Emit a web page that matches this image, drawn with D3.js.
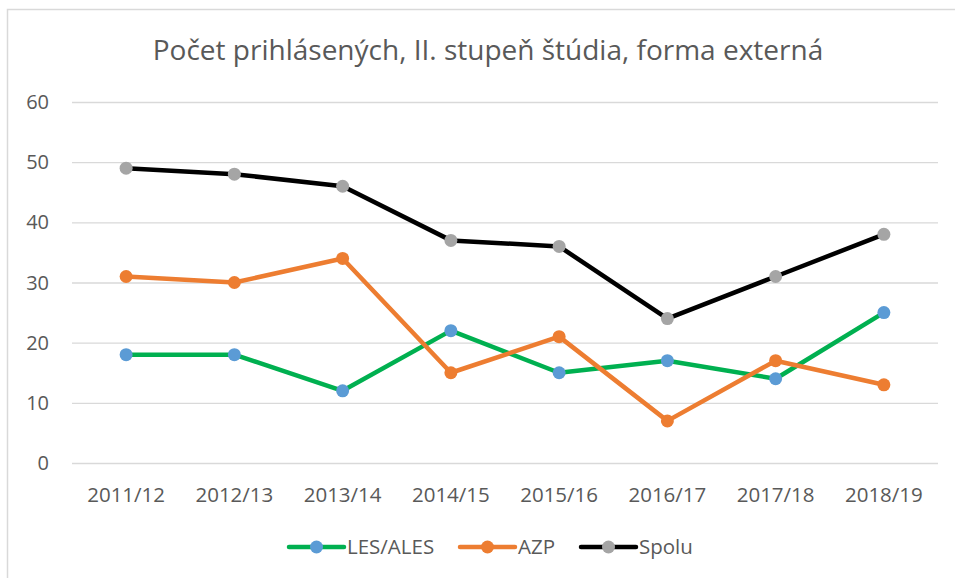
<!DOCTYPE html>
<html>
<head>
<meta charset="utf-8">
<script src="https://cdn.jsdelivr.net/npm/d3@7"></script>
<style>
  body { margin: 0; background: #fff; }
  text { font-family: "Open Sans", sans-serif; fill: #595959; }
</style>
</head>
<body>
<svg id="chart" width="955" height="578"></svg>
<script>
const title = 'Počet prihlásených, II. stupeň štúdia, forma externá';
const years = ['2011/12', '2012/13', '2013/14', '2014/15', '2015/16', '2016/17', '2017/18', '2018/19'];
const yTicks = [0, 10, 20, 30, 40, 50, 60];
const seriesNames = ['LES/ALES', 'AZP', 'Spolu'];
const lesAles = [18, 18, 12, 22, 15, 17, 14, 25];
const azp = [31, 30, 34, 15, 21, 7, 17, 13];
const spolu = [49, 48, 46, 37, 36, 24, 31, 38];

const series = [
  { name: seriesNames[0], values: lesAles, line: '#00B050', dot: '#5B9BD5' },
  { name: seriesNames[1], values: azp, line: '#ED7D31', dot: '#ED7D31' },
  { name: seriesNames[2], values: spolu, line: '#000000', dot: '#A5A5A5' }
];

const margin = { top: 102, right: 17, bottom: 115, left: 72 };
const width = 955, height = 578;

const svg = d3.select('#chart');

// outer chart border
svg.append('rect')
  .attr('x', 7.5).attr('y', 9.5)
  .attr('width', 960).attr('height', 600)
  .attr('fill', 'none').attr('stroke', '#D9D9D9').attr('stroke-width', 1.5);

const x = d3.scaleBand()
  .domain(years)
  .range([margin.left, width - margin.right]);

const y = d3.scaleLinear()
  .domain([0, 60])
  .range([height - margin.bottom, margin.top]);

// gridlines
svg.append('g')
  .selectAll('line')
  .data(yTicks)
  .join('line')
  .attr('x1', margin.left).attr('x2', width - margin.right)
  .attr('y1', d => y(d) + 0.5).attr('y2', d => y(d) + 0.5)
  .attr('stroke', '#D9D9D9').attr('stroke-width', 1.3);

// y labels
svg.append('g')
  .selectAll('text')
  .data(yTicks)
  .join('text')
  .attr('x', 49).attr('y', d => y(d))
  .attr('dy', '0.35em')
  .attr('text-anchor', 'end')
  .style('font-size', '20px')
  .text(d => d);

// x labels
svg.append('g')
  .selectAll('text')
  .data(years)
  .join('text')
  .attr('x', d => x(d) + x.bandwidth() / 2)
  .attr('y', 495)
  .attr('dy', '0.35em')
  .attr('text-anchor', 'middle')
  .style('font-size', '20.5px')
  .text(d => d);

// title
svg.append('text')
  .attr('x', 488).attr('y', 50)
  .attr('dy', '0.35em')
  .attr('text-anchor', 'middle')
  .style('font-size', '28px')
  .text(title);

const line = d3.line()
  .x((d, i) => x(years[i]) + x.bandwidth() / 2)
  .y(d => y(d));

const g = svg.append('g');
series.forEach(s => {
  g.append('path')
    .attr('d', line(s.values))
    .attr('fill', 'none')
    .attr('stroke', s.line)
    .attr('stroke-width', 4.5)
    .attr('stroke-linejoin', 'round')
    .attr('stroke-linecap', 'round');
});
series.forEach(s => {
  g.selectAll(null)
    .data(s.values)
    .join('circle')
    .attr('cx', (d, i) => x(years[i]) + x.bandwidth() / 2)
    .attr('cy', d => y(d))
    .attr('r', 6.5)
    .attr('fill', s.dot);
});

// legend
const legendX = [289, 460, 581];
const legend = svg.append('g');
series.forEach((s, i) => {
  const lg = legend.append('g').attr('transform', `translate(${legendX[i]},547)`);
  lg.append('line')
    .attr('x1', 0).attr('x2', 55)
    .attr('stroke', s.line).attr('stroke-width', 4.5)
    .attr('stroke-linecap', 'round');
  lg.append('circle').attr('cx', 27.5).attr('r', 6.5).attr('fill', s.dot);
  lg.append('text')
    .attr('x', 58).attr('dy', '0.35em')
    .style('font-size', '20.5px')
    .text(s.name);
});
</script>
</body>
</html>
